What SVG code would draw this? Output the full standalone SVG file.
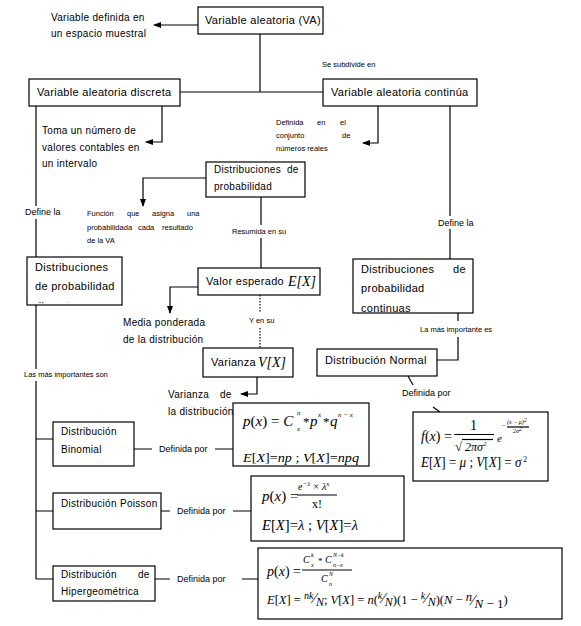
<svg xmlns="http://www.w3.org/2000/svg" width="581" height="626" viewBox="0 0 581 626">
<defs>
<style>
.bg{fill:#fff}
.box{fill:#fff;stroke:#000;stroke-width:1.2}
.ln{fill:none;stroke:#000;stroke-width:1.2}
.dot{fill:none;stroke:#000;stroke-width:1.2;stroke-dasharray:1.5,1.5}
text{font-family:"Liberation Sans",Arial,sans-serif;fill:#000}
.t11{font-size:11px;letter-spacing:0.3px}
.t10{font-size:10px;letter-spacing:0.3px}
.t9{font-size:9px}
.t75{font-size:7.5px}
.m text, text.m{font-family:"Liberation Serif","Times New Roman",serif}
.i{font-style:italic}
</style>
<marker id="ah" markerWidth="8" markerHeight="6" refX="7" refY="3" orient="auto" markerUnits="userSpaceOnUse">
<path d="M0,0 L8,3 L0,6 Z" fill="#000"/>
</marker>
<clipPath id="cpL"><rect x="28" y="258" width="93" height="45"/></clipPath>
<clipPath id="cpR"><rect x="354" y="260" width="118" height="52"/></clipPath>
</defs>
<rect width="581" height="626" class="bg"/>

<g id="connectors">
<path class="ln" d="M198,25 H154" marker-end="url(#ah)"/>
<path class="ln" d="M260,34 V92"/>
<path class="ln" d="M180,92 H323"/>
<path class="ln" d="M162,106 V142 H146" marker-end="url(#ah)"/>
<path class="ln" d="M36,106 V206 M36,219 V257"/>
<path class="ln" d="M378,106 V143 H363" marker-end="url(#ah)"/>
<path class="ln" d="M450,106 V216 M450,229 V259"/>
<path class="ln" d="M206,178 H143 V206" marker-end="url(#ah)"/>
<path class="ln" d="M261,197 V225 M261,238 V268"/>
<path class="ln" d="M198,287 H170 V313" marker-end="url(#ah)"/>
<path class="dot" d="M260,295 V313 M260,328 V348"/>
<path class="ln" d="M257,377 V394 H241" marker-end="url(#ah)"/>
<path class="ln" d="M36,305 V369 M36,381 V579 M36,439 H53 M36,511 H53 M36,579 H53"/>
<path class="ln" d="M134,449 H152 M215,449 H233"/>
<path class="ln" d="M161,511 H170 M233,511 H251"/>
<path class="ln" d="M155,579 H170 M242,579 H258"/>
<path class="ln" d="M458,313 V321 M458,337 V360 H437"/>
<path class="ln" d="M408,376 L413,385 M433,407 L440,412"/>
</g>

<g id="labels">
<text class="t10" x="51" y="21">Variable definida en</text>
<text class="t10" x="51" y="37">un espacio muestral</text>
<text class="t75" x="322" y="67">Se subdivide  en</text>
<text class="t10" x="42" y="134">Toma un número de</text>
<text class="t10" x="42" y="151">valores contables en</text>
<text class="t10" x="42" y="167">un intervalo</text>
<text class="t75" x="276" y="125">Definida</text><text class="t75" x="317" y="125">en</text><text class="t75" x="340" y="125">el</text>
<text class="t75" x="276" y="138">conjunto</text><text class="t75" x="342" y="138">de</text>
<text class="t75" x="276" y="151">números reales</text>
<text class="t9" x="25" y="215">Define la</text>
<text class="t9" x="438" y="226">Define la</text>
<text class="t75" x="87" y="216">Función</text><text class="t75" x="127" y="216">que</text><text class="t75" x="152" y="216">asigna</text><text class="t75" x="187" y="216">una</text>
<text class="t75" x="87" y="230">probabilidad</text><text class="t75" x="128" y="230">a</text><text class="t75" x="138" y="230">cada</text><text class="t75" x="162" y="230">resultado</text>
<text class="t75" x="87" y="243">de la VA</text>
<text class="t75" x="232" y="234">Resumida en su</text>
<text class="t10" x="123" y="326">Media ponderada</text>
<text class="t10" x="123" y="343">de la distribución</text>
<text class="t75" x="249" y="323">Y en su</text>
<text class="t10" x="168" y="398">Varianza</text><text class="t10" x="220" y="398">de</text>
<text class="t10" x="168" y="415">la distribución</text>
<text class="t75" x="24" y="377">Las más importantes  son</text>
<text class="t75" x="420" y="332">La más importante  es</text>
<text class="t9" x="402" y="396">Definida por</text>
<text class="t9" x="159" y="452">Definida por</text>
<text class="t9" x="177" y="514">Definida por</text>
<text class="t9" x="177" y="582">Definida por</text>
</g>

<g id="va">
<rect class="box" x="198" y="7" width="125" height="27"/>
<text class="t11" x="205" y="24">Variable aleatoria (VA)</text>
</g>
<g id="discreta">
<rect class="box" x="29" y="79" width="151" height="27"/>
<text class="t11" x="37" y="96">Variable aleatoria discreta</text>
</g>
<g id="continua">
<rect class="box" x="323" y="79" width="154" height="27"/>
<text class="t11" x="331" y="96">Variable aleatoria continúa</text>
</g>
<g id="distrib">
<rect class="box" x="206" y="162" width="99" height="35"/>
<text class="t10" x="214" y="173">Distribuciones</text><text class="t10" x="287" y="173">de</text>
<text class="t10" x="214" y="190">probabilidad</text>
</g>
<g id="distrib-discretas">
<rect class="box" x="27" y="257" width="95" height="48"/>
<g clip-path="url(#cpL)">
<text class="t11" x="35" y="271">Distribuciones</text>
<text class="t11" x="35" y="290">de probabilidad</text>
<text class="t11" x="35" y="310">discretas</text>
</g>
</g>
<g id="distrib-continuas">
<rect class="box" x="353" y="259" width="120" height="54"/>
<g clip-path="url(#cpR)">
<text class="t11" x="361" y="273">Distribuciones</text><text class="t11" x="453" y="273">de</text>
<text class="t11" x="361" y="292">probabilidad</text>
<text class="t11" x="361" y="312">continuas</text>
</g>
</g>
<g id="valor">
<rect class="box" x="198" y="268" width="122" height="27"/>
<text class="t11" x="206" y="285">Valor esperado</text>
<text class="m i" x="288" y="286" font-size="14">E[X]</text>
</g>
<g id="varianza">
<rect class="box" x="203" y="348" width="90" height="29"/>
<text class="t11" x="211" y="366">Varianza</text>
<text class="m i" x="258" y="367" font-size="14">V[X]</text>
</g>
<g id="normal">
<rect class="box" x="317" y="349" width="120" height="27"/>
<text class="t11" x="325" y="364">Distribución Normal</text>
</g>
<g id="binomial">
<rect class="box" x="53" y="422" width="81" height="44"/>
<text class="t10" x="61" y="435">Distribución</text>
<text class="t10" x="61" y="453">Binomial</text>
</g>
<g id="poisson">
<rect class="box" x="53" y="493" width="108" height="36"/>
<text class="t10" x="61" y="507">Distribución Poisson</text>
</g>
<g id="hiper">
<rect class="box" x="53" y="566" width="102" height="35"/>
<text class="t10" x="61" y="578">Distribución</text><text class="t10" x="138" y="578">de</text>
<text class="t10" x="61" y="595">Hipergeométrica</text>
</g>

<g id="f-binomial" class="m">
<rect class="box" x="233" y="403" width="136" height="63"/>
<text x="243" y="426" font-size="15"><tspan class="i">p</tspan>(<tspan class="i">x</tspan>) = <tspan class="i">C</tspan></text>
<text class="i" x="297" y="415" font-size="7">n</text>
<text class="i" x="297" y="431" font-size="7">x</text>
<text x="303" y="426" font-size="13">*</text>
<text class="i" x="310" y="426" font-size="15">p</text>
<text class="i" x="318" y="417" font-size="7">x</text>
<text x="323" y="426" font-size="13">*</text>
<text class="i" x="330" y="426" font-size="15">q</text>
<text class="i" x="338" y="417" font-size="7">n − x</text>
<text x="243" y="462" font-size="13" textLength="116" lengthAdjust="spacingAndGlyphs"><tspan class="i">E</tspan>[<tspan class="i">X</tspan>]=<tspan class="i">np</tspan> ; <tspan class="i">V</tspan>[<tspan class="i">X</tspan>]=<tspan class="i">npq</tspan></text>
</g>

<g id="f-poisson" class="m">
<rect class="box" x="251" y="476" width="153" height="65"/>
<text x="262" y="501" font-size="15"><tspan class="i">p</tspan>(<tspan class="i">x</tspan>) =</text>
<text class="i" x="298" y="490" font-size="10">e<tspan font-size="7" dy="-4">−λ</tspan><tspan dy="4"> × λ</tspan><tspan font-size="7" dy="-4">x</tspan></text>
<path class="ln" d="M297,495 H337" stroke-width="0.9"/>
<text x="312" y="508" font-size="12">x!</text>
<text x="262" y="530" font-size="14" textLength="96" lengthAdjust="spacingAndGlyphs"><tspan class="i">E</tspan>[<tspan class="i">X</tspan>]=<tspan class="i">λ</tspan> ; <tspan class="i">V</tspan>[<tspan class="i">X</tspan>]=<tspan class="i">λ</tspan></text>
</g>

<g id="f-hiper" class="m">
<rect class="box" x="258" y="548" width="304" height="71"/>
<text x="267" y="576" font-size="14"><tspan class="i">p</tspan>(<tspan class="i">x</tspan>) =</text>
<text class="i" x="303" y="563" font-size="10">C</text>
<text class="i" x="311" y="557" font-size="6">k</text>
<text class="i" x="311" y="567" font-size="6">x</text>
<text x="318" y="564" font-size="9">*</text>
<text class="i" x="325" y="563" font-size="10">C</text>
<text class="i" x="333" y="557" font-size="6">N−k</text>
<text class="i" x="333" y="567" font-size="6">n−x</text>
<path class="ln" d="M302,570 H352" stroke-width="0.8"/>
<text class="i" x="321" y="582" font-size="10">C</text>
<text class="i" x="329" y="576" font-size="6">N</text>
<text class="i" x="329" y="586" font-size="6">n</text>
<text x="267" y="604" font-size="12.5"><tspan class="i">E</tspan>[<tspan class="i">X</tspan>] = <tspan class="i" font-size="10" dy="-5">nk</tspan><tspan font-size="15" dy="4">⁄</tspan><tspan class="i" font-size="12" dy="3">N</tspan><tspan dy="-2">; </tspan><tspan class="i">V</tspan>[<tspan class="i">X</tspan>] = <tspan class="i">n</tspan>(<tspan class="i" font-size="10" dy="-5">k</tspan><tspan font-size="15" dy="4">⁄</tspan><tspan class="i" font-size="12" dy="3">N</tspan><tspan dy="-2">)(1 − </tspan><tspan class="i" font-size="10" dy="-5">k</tspan><tspan font-size="15" dy="4">⁄</tspan><tspan class="i" font-size="12" dy="3">N</tspan><tspan dy="-2">)(</tspan><tspan class="i">N</tspan> − <tspan class="i" dy="-3">n</tspan><tspan font-size="15" dy="4">⁄</tspan><tspan class="i" font-size="13" dy="3">N</tspan><tspan font-size="13"> − 1</tspan><tspan dy="-4">)</tspan></text>
</g>

<g id="f-normal" class="m">
<rect class="box" x="413" y="412" width="135" height="69"/>
<text x="421" y="441" font-size="14"><tspan class="i">f</tspan>(<tspan class="i">x</tspan>) =</text>
<text x="470" y="430" font-size="14">1</text>
<path class="ln" d="M454,434.5 H494" stroke-width="0.9"/>
<text x="455" y="451" font-size="13">√</text>
<path class="ln" d="M462,439.5 H493" stroke-width="0.8"/>
<text class="i" x="465" y="451" font-size="12">2πσ<tspan font-size="7" dy="-5">2</tspan></text>
<text class="i" x="497" y="442" font-size="11">e</text>
<text x="502" y="428" font-size="7">−</text>
<text class="i" x="507" y="424" font-size="6">(x − μ)<tspan dy="-2">2</tspan></text>
<path class="ln" d="M507,427 H529" stroke-width="0.6"/>
<text class="i" x="513" y="433" font-size="6">2σ<tspan dy="-2">2</tspan></text>
<text x="421" y="467" font-size="14" textLength="106" lengthAdjust="spacingAndGlyphs"><tspan class="i">E</tspan>[<tspan class="i">X</tspan>] = <tspan class="i">μ</tspan> ; <tspan class="i">V</tspan>[<tspan class="i">X</tspan>] = <tspan class="i">σ</tspan><tspan font-size="8" dy="-5"> 2</tspan></text>
</g>
</svg>
